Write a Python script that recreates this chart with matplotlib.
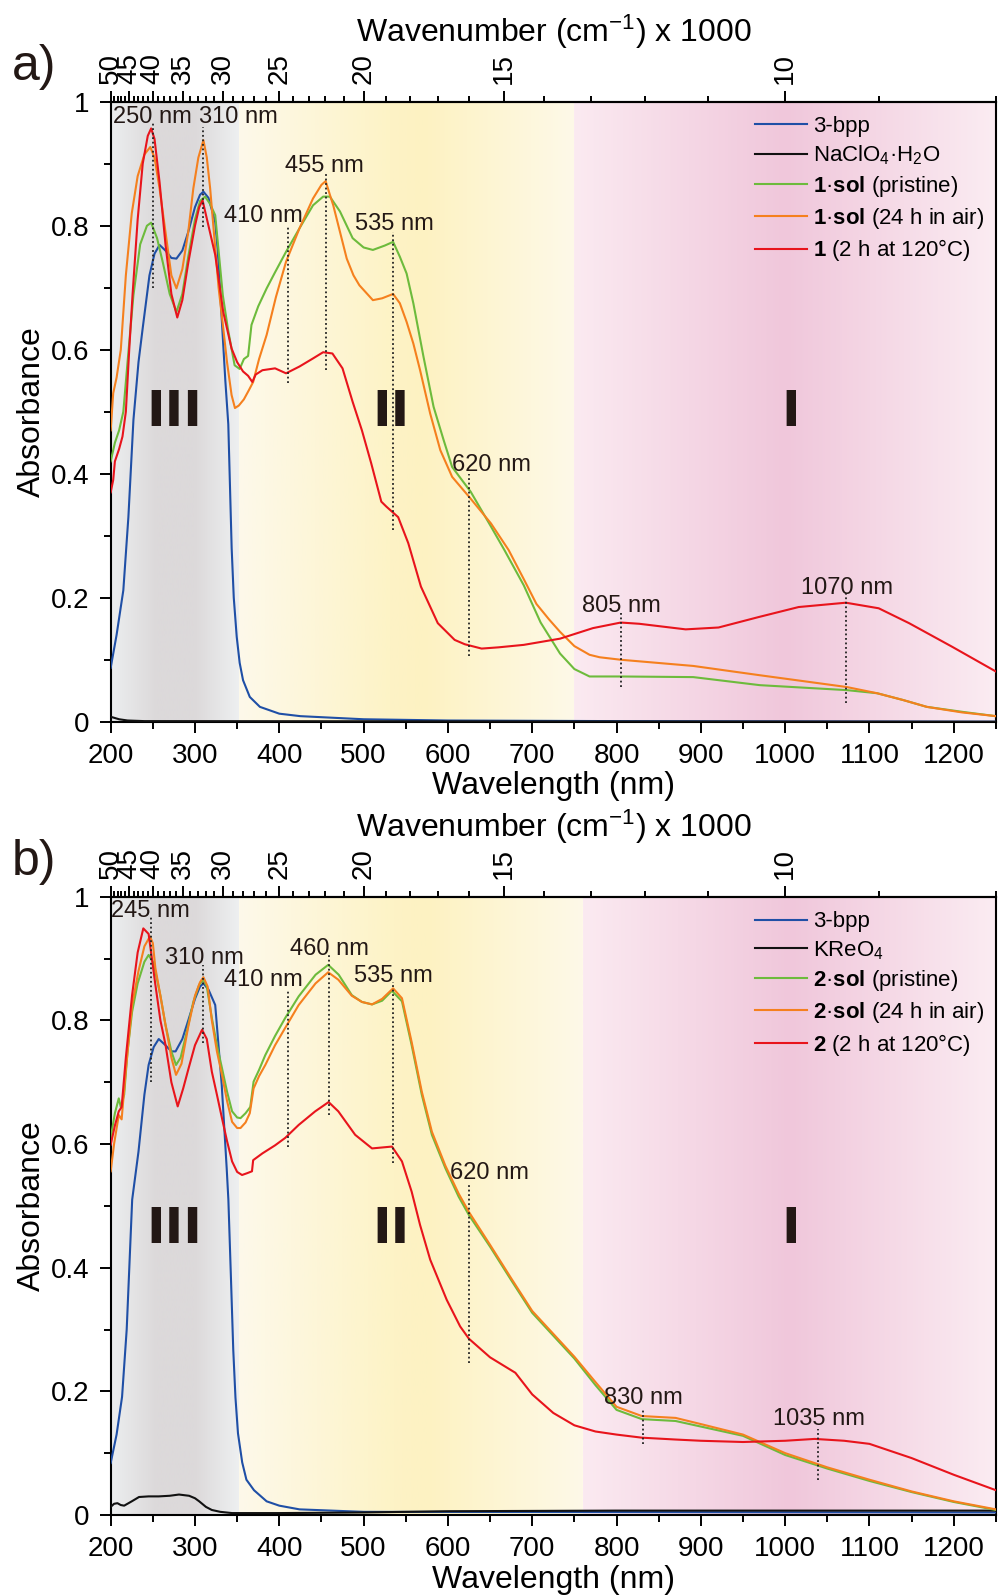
import numpy as np
import matplotlib
matplotlib.use('Agg')
import matplotlib.pyplot as plt
from matplotlib.colors import LinearSegmentedColormap
from matplotlib.ticker import MultipleLocator, FixedLocator

plt.rcParams['font.family'] = ['Liberation Sans', 'DejaVu Sans']
plt.rcParams['mathtext.fontset'] = 'custom'
plt.rcParams['mathtext.rm'] = 'Liberation Sans'
plt.rcParams['mathtext.it'] = 'Liberation Sans:italic'
plt.rcParams['mathtext.bf'] = 'Liberation Sans:bold'

# ---------------- panel a data ----------------
wl_a_bpp = [200, 207, 215, 221, 227, 233, 238, 246, 252, 258, 265, 272, 278, 285, 292, 300, 306, 310, 316,
            324, 327, 330, 333, 336, 339.5, 341.5, 343.5, 346, 349.5, 353, 357, 365, 377, 400, 425, 500, 600,
            800, 1250]
a_bpp = [0.087, 0.14, 0.212, 0.33, 0.487, 0.58, 0.635, 0.72, 0.755, 0.769, 0.76, 0.748, 0.747, 0.76, 0.79,
         0.83, 0.85, 0.855, 0.845, 0.806, 0.76, 0.69, 0.62, 0.55, 0.48, 0.38, 0.28, 0.2, 0.137, 0.095, 0.067,
         0.04, 0.024, 0.013, 0.009, 0.004, 0.002, 0.001, 0.0]

wl_a_salt = [200, 210, 220, 240, 1250]
a_salt = [0.008, 0.004, 0.002, 0.001, 0.0]

wl_a_pris = [200, 205, 210, 215, 220, 227, 235, 243, 248, 255, 262, 270, 278, 285, 292, 300, 306, 312, 318,
             324, 333, 339, 347, 353, 358, 363, 367, 375, 385, 395, 408, 424, 440, 452, 460, 472, 487, 500,
             511, 525, 535, 543, 551, 559, 571, 583, 595, 605, 627, 651, 667, 690, 710, 733, 750, 768, 805,
             891, 970, 1073, 1109, 1140, 1168, 1210, 1250]
a_pris = [0.42, 0.45, 0.47, 0.50, 0.58, 0.688, 0.77, 0.80, 0.805, 0.78, 0.74, 0.69, 0.661, 0.69, 0.75, 0.81,
          0.84, 0.847, 0.835, 0.817, 0.688, 0.634, 0.575, 0.569, 0.585, 0.59, 0.64, 0.67, 0.699, 0.725, 0.758,
          0.796, 0.833, 0.847, 0.847, 0.823, 0.78, 0.765, 0.761, 0.768, 0.774, 0.75, 0.723, 0.675, 0.589,
          0.508, 0.454, 0.411, 0.371, 0.315, 0.277, 0.22, 0.16, 0.11, 0.085, 0.073, 0.073, 0.072, 0.059,
          0.051, 0.046, 0.035, 0.024, 0.016, 0.009]

wl_a_air = [200, 203, 207, 212, 218, 225, 232, 240, 247, 252, 258, 265, 272, 278, 285, 292, 298, 304, 310,
            314, 318, 322, 328, 333.5, 338, 343.4, 347.4, 352, 358, 364, 369, 376, 385, 396, 408, 424, 440,
            450, 455, 460, 464, 472, 480, 488, 495, 511, 522, 535, 543, 551, 559, 567, 579, 591, 605, 625,
            651, 672, 690, 705, 720, 733, 750, 768, 780, 805, 891, 970, 1073, 1109, 1140, 1168, 1210, 1250]
a_air = [0.47, 0.53, 0.555, 0.6, 0.72, 0.82, 0.88, 0.915, 0.927, 0.91, 0.86, 0.79, 0.72, 0.699, 0.73, 0.79,
         0.86, 0.91, 0.938, 0.91, 0.86, 0.796, 0.7, 0.635, 0.58, 0.527, 0.506, 0.51, 0.52, 0.535, 0.548, 0.585,
         0.624, 0.685, 0.742, 0.796, 0.844, 0.866, 0.872, 0.85, 0.833, 0.79, 0.747, 0.72, 0.704, 0.68, 0.683,
         0.69, 0.675, 0.645, 0.61, 0.567, 0.497, 0.438, 0.395, 0.363, 0.32, 0.277, 0.23, 0.19, 0.165, 0.145,
         0.122, 0.108, 0.104, 0.1, 0.09, 0.075, 0.056, 0.046, 0.035, 0.024, 0.015, 0.009]

wl_a_heat = [200, 203, 205, 210, 214, 218, 222, 226, 232, 238, 244, 248, 252, 258, 265, 272, 279, 285, 292,
             300, 305, 309, 316, 324, 333.5, 343.4, 350, 357, 363, 368, 372, 380, 395, 408, 424, 440, 452, 463,
             475, 487, 498, 509, 521, 527, 541, 553, 568, 588, 608, 620, 640, 660, 690, 733, 772, 805, 827, 882,
             921, 969, 1016, 1072, 1111, 1147, 1198, 1250]
a_heat = [0.37, 0.39, 0.42, 0.44, 0.46, 0.5, 0.6, 0.69, 0.81, 0.9, 0.945, 0.957, 0.94, 0.87, 0.77, 0.69, 0.652,
          0.68, 0.74, 0.8, 0.83, 0.841, 0.8, 0.753, 0.661, 0.602, 0.58, 0.565, 0.558, 0.548, 0.56, 0.567, 0.57,
          0.562, 0.573, 0.586, 0.596, 0.594, 0.57, 0.516, 0.47, 0.417, 0.355, 0.347, 0.33, 0.288, 0.218, 0.159,
          0.132, 0.125, 0.118, 0.12, 0.124, 0.134, 0.151, 0.16, 0.158, 0.149, 0.152, 0.169, 0.185, 0.192,
          0.183, 0.159, 0.121, 0.081]

# ---------------- panel b data ----------------
wl_b_bpp = [200, 207, 213.5, 219, 225.5, 233, 240, 245, 251, 257, 265, 272, 277, 285, 292, 300, 306, 310, 316,
            324, 331.7, 337.6, 339.6, 342.5, 345.4, 348, 351, 356, 361, 370, 385, 400, 424, 500, 1250]
b_bpp = [0.084, 0.13, 0.191, 0.3, 0.51, 0.588, 0.68, 0.728, 0.757, 0.77, 0.76, 0.75, 0.75, 0.77, 0.8, 0.835,
         0.855, 0.86, 0.85, 0.825, 0.696, 0.561, 0.51, 0.39, 0.267, 0.19, 0.132, 0.085, 0.057, 0.04, 0.022,
         0.015, 0.009, 0.005, 0.004]

wl_b_salt = [200, 204, 208, 212, 216, 225, 233.6, 245, 257, 270, 281, 293, 300, 305, 313, 320, 330, 344, 400,
             500, 600, 800, 1250]
b_salt = [0.013, 0.018, 0.019, 0.016, 0.015, 0.022, 0.029, 0.03, 0.03, 0.031, 0.033, 0.031, 0.027, 0.022,
          0.013, 0.008, 0.005, 0.003, 0.003, 0.004, 0.006, 0.007, 0.007]

wl_b_pris = [200, 205, 209.6, 212, 216, 220, 225.4, 232, 240, 245, 250, 253, 259, 265, 272, 277.5, 283, 290,
             298, 305, 310, 314, 320, 326, 332, 338, 344, 350, 354, 360, 365.6, 369.5, 376, 383.4, 395, 407,
             423, 443, 458, 470.5, 486, 498, 510, 522, 533.6, 545.5, 557, 569, 581, 597, 612.7, 625, 650, 675,
             700, 725, 750, 775, 800, 830, 870, 900, 950, 1000, 1050, 1100, 1150, 1200, 1250]
b_pris = [0.61, 0.65, 0.674, 0.66, 0.68, 0.75, 0.814, 0.86, 0.895, 0.906, 0.895, 0.879, 0.84, 0.793, 0.75,
          0.728, 0.74, 0.78, 0.83, 0.858, 0.866, 0.855, 0.804, 0.76, 0.723, 0.685, 0.653, 0.643, 0.642, 0.65,
          0.66, 0.701, 0.72, 0.744, 0.775, 0.804, 0.839, 0.874, 0.89, 0.874, 0.841, 0.83, 0.826, 0.832, 0.848,
          0.831, 0.76, 0.68, 0.615, 0.561, 0.515, 0.485, 0.434, 0.38, 0.327, 0.29, 0.253, 0.21, 0.17, 0.155,
          0.152, 0.143, 0.128, 0.097, 0.075, 0.055, 0.037, 0.021, 0.008]

wl_b_air = [200, 204, 209.6, 213, 218, 225.4, 233, 240, 246.6, 250, 253, 259, 265, 272, 277.5, 284, 292, 300,
            306, 310, 315, 320, 326, 332, 338, 344, 350, 354, 360, 365, 369.5, 376, 383.4, 395, 407, 423, 443,
            458, 470, 486, 498, 510, 522, 535, 545.5, 557, 569, 581, 597, 612.7, 625, 650, 675, 700, 725, 750,
            775, 800, 830, 870, 900, 950, 1000, 1050, 1100, 1150, 1200, 1250]
b_air = [0.556, 0.6, 0.647, 0.64, 0.72, 0.825, 0.88, 0.92, 0.936, 0.925, 0.885, 0.84, 0.793, 0.74, 0.712, 0.73,
         0.79, 0.84, 0.862, 0.87, 0.855, 0.8, 0.75, 0.712, 0.67, 0.636, 0.626, 0.626, 0.635, 0.65, 0.69, 0.71,
         0.728, 0.76, 0.788, 0.825, 0.86, 0.878, 0.866, 0.84, 0.83, 0.826, 0.835, 0.852, 0.836, 0.765, 0.685,
         0.62, 0.565, 0.52, 0.49, 0.437, 0.383, 0.33, 0.293, 0.256, 0.215, 0.175, 0.16, 0.157, 0.147, 0.13,
         0.1, 0.077, 0.057, 0.038, 0.022, 0.009]

wl_b_heat = [200, 205, 209.6, 213, 218, 225.4, 232, 238.7, 245, 253, 259, 265, 272, 279.5, 286, 292.5, 300,
             308.4, 314, 320, 326, 332, 338, 344, 350, 355.8, 362, 367.6, 369, 380, 395, 407, 423, 442.6, 458.5,
             470, 490, 510, 533.6, 545.5, 557, 567, 579, 598.6, 614.5, 625, 650, 680, 700, 725, 750, 775, 800,
             830, 870, 900, 950, 1000, 1035, 1070, 1100, 1150, 1200, 1250]
b_heat = [0.599, 0.63, 0.653, 0.66, 0.74, 0.841, 0.91, 0.949, 0.94, 0.858, 0.8, 0.761, 0.7, 0.661, 0.69, 0.723,
          0.76, 0.785, 0.77, 0.717, 0.68, 0.642, 0.605, 0.572, 0.555, 0.55, 0.553, 0.556, 0.574, 0.585, 0.598,
          0.61, 0.631, 0.653, 0.668, 0.653, 0.615, 0.593, 0.596, 0.572, 0.523, 0.469, 0.413, 0.348, 0.305,
          0.285, 0.255, 0.23, 0.195, 0.165, 0.145, 0.135, 0.13, 0.125, 0.122, 0.12, 0.118, 0.12, 0.123, 0.12,
          0.115, 0.092, 0.065, 0.04]

labels_a = ['3-bpp', 'NaClO$_4$·H$_2$O', r'$\mathbf{1}$·$\mathbf{sol}$ (pristine)',
            r'$\mathbf{1}$·$\mathbf{sol}$ (24 h in air)', r'$\mathbf{1}$ (2 h at 120°C)']
labels_b = ['3-bpp', 'KReO$_4$', r'$\mathbf{2}$·$\mathbf{sol}$ (pristine)',
            r'$\mathbf{2}$·$\mathbf{sol}$ (24 h in air)', r'$\mathbf{2}$ (2 h at 120°C)']
colors = ['#1f4fa6', '#111111', '#6dbb3c', '#f5801e', '#e8141c']

# peak markers: (wavelength of line, label, y bottom, y top, label x, label y)
marks_a = [(250, '250 nm', 0.70, 0.965, 249, 0.966), (310, '310 nm', 0.798, 0.96, 351, 0.966),
           (410, '410 nm', 0.546, 0.798, 381, 0.806), (455, '455 nm', 0.567, 0.887, 454, 0.886),
           (535, '535 nm', 0.309, 0.79, 536, 0.793), (625, '620 nm', 0.106, 0.40, 652, 0.405),
           (805, '805 nm', 0.056, 0.176, 806, 0.177), (1072, '1070 nm', 0.031, 0.207, 1073, 0.206)]
marks_b = [(248, '245 nm', 0.701, 0.968, 247, 0.968), (310, '310 nm', 0.763, 0.89, 311, 0.891),
           (410, '410 nm', 0.596, 0.848, 381, 0.855), (459, '460 nm', 0.647, 0.906, 459, 0.906),
           (535, '535 nm', 0.569, 0.863, 535, 0.863), (625, '620 nm', 0.246, 0.537, 649, 0.544),
           (831, '830 nm', 0.114, 0.172, 832, 0.179), (1039, '1035 nm', 0.056, 0.139, 1040, 0.146)]

# background region gradients
gray_stops = [(0.0, '#eceeef'), (0.35, '#dcd9da'), (0.65, '#dcd9da'), (1.0, '#eef0f1')]
yellow_stops = [(0.0, '#fdf9ea'), (0.45, '#fdf3c6'), (0.55, '#fdf2c2'), (1.0, '#fef9e8')]
pink_stops = [(0.0, '#fbeaf1'), (0.5, '#f0c7db'), (1.0, '#fbecf2')]


def wn(x):
    x = np.asarray(x, dtype=float)
    with np.errstate(divide='ignore'):
        return 10000.0 / x


def draw_panel(ax, series, labels, marks, split, regions_y):
    # region backgrounds
    bounds = [(200, 352, gray_stops), (352, split, yellow_stops), (split, 1250, pink_stops)]
    for x0, x1, stops in bounds:
        cm = LinearSegmentedColormap.from_list('g', stops)
        ax.imshow(np.linspace(0, 1, 256)[None, :], cmap=cm, extent=(x0, x1, 0, 1),
                  aspect='auto', zorder=0, interpolation='bilinear')

    for (x, y), lab, c in zip(series, labels, colors):
        ax.plot(x, y, color=c, lw=1.5, label=lab, zorder=3)

    for xl, txt, y0, y1, tx, ty in marks:
        ax.plot([xl, xl], [y0, y1], color='#222222', lw=1.3, ls=(0, (1, 1.5)), zorder=4)
        ax.text(tx, ty, txt, fontsize=17, ha='center', va='baseline', color='#231815', zorder=5)

    for tx, txt in zip([276, 533, 1006], ['III', 'II', 'I']):
        ax.text(tx, regions_y, txt, fontsize=36, family='DejaVu Sans', fontweight='bold',
                ha='center', va='center', color='#231815', zorder=5)

    ax.set_xlim(200, 1250)
    ax.set_ylim(0, 1)
    ax.xaxis.set_major_locator(MultipleLocator(100))
    ax.xaxis.set_minor_locator(MultipleLocator(50))
    ax.yaxis.set_minor_locator(MultipleLocator(0.1))
    ax.set_yticks([0, 0.2, 0.4, 0.6, 0.8, 1.0])
    ax.set_yticklabels(['0', '0.2', '0.4', '0.6', '0.8', '1'])
    ax.tick_params(which='both', direction='out', width=1.4, labelsize=20, pad=7)
    ax.tick_params(which='major', length=8)
    ax.tick_params(which='minor', length=5)
    ax.tick_params(top=False, right=False)
    for s in ax.spines.values():
        s.set_linewidth(1.5)
    ax.set_xlabel('Wavelength (nm)', fontsize=23, labelpad=2)
    ax.set_ylabel('Absorbance', fontsize=23, labelpad=3)

    sec = ax.secondary_xaxis('top', functions=(wn, wn))
    sec.set_xticks([50, 45, 40, 35, 30, 25, 20, 15, 10])
    sec.xaxis.set_minor_locator(FixedLocator(list(range(8, 51))))
    sec.tick_params(which='both', direction='out', width=1.4, labelsize=20, labelrotation=90, pad=5)
    sec.tick_params(which='major', length=8)
    sec.tick_params(which='minor', length=4)
    sec.spines['top'].set_linewidth(1.5)
    sec.set_xlabel('Wavenumber (cm$^{-1}$) x 1000', fontsize=23, labelpad=8)

    leg = ax.legend(loc='upper left', bbox_to_anchor=(0.712, 1.0), frameon=False, fontsize=16,
                    handlelength=2.3, handletextpad=0.3, labelspacing=0.3, borderaxespad=0.25)
    leg.set_zorder(6)


fig = plt.figure(figsize=(9.98, 15.95), dpi=100)
ax_a = fig.add_axes([0.1109, 0.5475, 0.887, 0.3887])
ax_b = fig.add_axes([0.1109, 0.0502, 0.887, 0.3875])

draw_panel(ax_a, [(wl_a_bpp, a_bpp), (wl_a_salt, a_salt), (wl_a_pris, a_pris), (wl_a_air, a_air),
                  (wl_a_heat, a_heat)], labels_a, marks_a, 750, 0.5)
draw_panel(ax_b, [(wl_b_bpp, b_bpp), (wl_b_salt, b_salt), (wl_b_pris, b_pris), (wl_b_air, b_air),
                  (wl_b_heat, b_heat)], labels_b, marks_b, 760, 0.463)

fig.text(0.012, 0.958, 'a)', fontsize=36, va='center', ha='left', color='#231815')
fig.text(0.012, 0.4595, 'b)', fontsize=36, va='center', ha='left', color='#231815')

fig.savefig('out.png', dpi=100)
